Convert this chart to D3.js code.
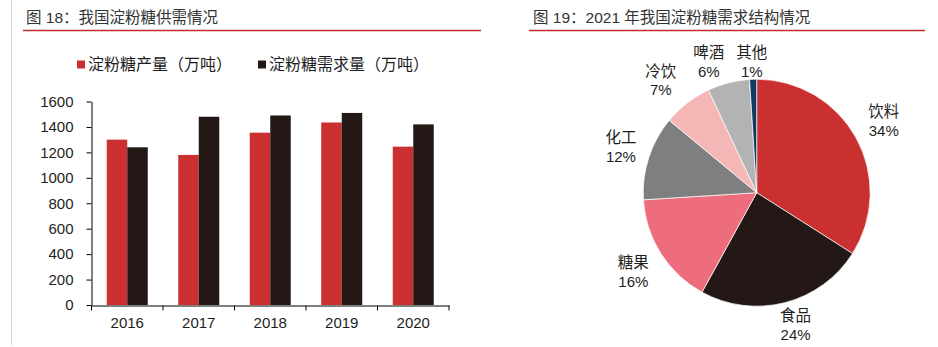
<!DOCTYPE html>
<html><head><meta charset="utf-8">
<script src="https://cdn.jsdelivr.net/npm/d3@7"></script>
<style>
html,body{margin:0;padding:0;background:#fff;}
svg{display:block;font-family:"Liberation Sans",Arial,"Noto Sans CJK SC",sans-serif;}
</style></head>
<body><svg id="c" width="938" height="347"></svg>
<script>
// ---- data: left chart ----
const years = ["2016","2017","2018","2019","2020"];
const production = [1300,1180,1355,1435,1245];
const demand = [1240,1480,1490,1510,1420];
const seriesNames = ["淀粉糖产量（万吨）","淀粉糖需求量（万吨）"];
const yTicks = [0,200,400,600,800,1000,1200,1400,1600];
// ---- data: right chart ----
const pieLabels = ["饮料","食品","糖果","化工","冷饮","啤酒","其他"];
const pieValues = [34,24,16,12,7,6,1];
const titleLeft = "图 18：我国淀粉糖供需情况";
const titleRight = "图 19：2021 年我国淀粉糖需求结构情况";

const barColors = ["#C9302F","#231815"];
const pieColors = ["#C9302F","#231815","#EE6D7C","#7F7F7F","#F5B6B6","#B3B3B3","#0F3A62"];
const textColor = "#1e1e1e";
const numFont = "'Liberation Sans',Arial,sans-serif";

const svg = d3.select("#c");

// frame elements
svg.append("line").attr("x1",11.5).attr("x2",11.5).attr("y1",0).attr("y2",345)
  .attr("stroke","#d6d6d6").attr("stroke-width",1);
svg.append("text").attr("x",26).attr("y",18).attr("dy","0.35em")
  .attr("font-size",15.5).attr("fill","#333").text(titleLeft);
svg.append("text").attr("x",533).attr("y",18).attr("dy","0.35em")
  .attr("font-size",15.5).attr("fill","#333").text(titleRight);
svg.append("line").attr("x1",23).attr("x2",481).attr("y1",30.5).attr("y2",30.5)
  .attr("stroke","#C42A2A").attr("stroke-width",1.3);
svg.append("line").attr("x1",529).attr("x2",925).attr("y1",30.5).attr("y2",30.5)
  .attr("stroke","#C42A2A").attr("stroke-width",1.3);

// ---- bar chart ----
const x = d3.scaleBand().domain(years).range([91.5,449]).paddingInner(0).paddingOuter(0);
const xs = d3.scaleBand().domain([0,1]).range([0,x.bandwidth()]).paddingInner(0).paddingOuter(0.744);
const y = d3.scaleLinear().domain([0,1600]).range([305,101.5]);

const gBars = svg.append("g");
const seriesData = [production, demand];
seriesData.forEach((vals,si)=>{
  gBars.selectAll(".b"+si).data(vals).join("rect")
    .attr("x",(d,i)=>x(years[i])+xs(si))
    .attr("width",xs.bandwidth())
    .attr("y",d=>y(d))
    .attr("height",d=>y(0)-y(d))
    .attr("fill",barColors[si]);
});

// y axis
const yAxis = svg.append("g").attr("transform","translate(91.5,0)")
  .call(d3.axisLeft(y).tickValues(yTicks).tickFormat(d3.format("d")).tickSize(5).tickPadding(13).tickSizeOuter(0));
yAxis.select(".domain").attr("stroke","#000");
yAxis.selectAll(".tick line").attr("stroke","#000");
yAxis.selectAll("text").attr("font-size",15).attr("fill",textColor).style("font-family",numFont);

// x axis
const xAxis = svg.append("g").attr("transform","translate(0,305.5)")
  .call(d3.axisBottom(x).tickSize(0).tickPadding(12).tickSizeOuter(0));
xAxis.select(".domain").attr("stroke","#000");
xAxis.selectAll("text").attr("font-size",15).attr("fill",textColor).style("font-family",numFont);
const bounds = years.map(d=>x(d)).concat([x.range()[1]]);
xAxis.selectAll(".bt").data(bounds).join("line")
  .attr("x1",d=>d).attr("x2",d=>d).attr("y1",0).attr("y2",5).attr("stroke","#000");

// legend
const legX = [77,258];
seriesNames.forEach((name,i)=>{
  svg.append("rect").attr("x",legX[i]).attr("y",60.5).attr("width",8).attr("height",8).attr("fill",barColors[i]);
  svg.append("text").attr("x",legX[i]+11).attr("y",64.5).attr("dy","0.35em")
    .attr("font-size",16).attr("fill",textColor).text(name);
});

// ---- pie chart ----
const cx = 756.7, cy = 192.7, R = 113.5;
const pie = d3.pie().sort(null).value(d=>d).startAngle(0).endAngle(2*Math.PI);
const arcs = pie(pieValues);
const arc = d3.arc().innerRadius(0).outerRadius(R);
const gPie = svg.append("g").attr("transform",`translate(${cx},${cy})`);
gPie.selectAll("path").data(arcs).join("path")
  .attr("d",arc).attr("fill",(d,i)=>pieColors[i])
  .attr("stroke","#fff").attr("stroke-width",0.7);

// label layout (outside end): anchor point just outside the rim, box pushed outward
const W = 25, H = 20, gap = 3, k = 1.6, minCy = 62, halfW = 15.5;
const clamp = v => Math.max(-1, Math.min(1, v));
const labs = arcs.map((a,i)=>{
  const th = (a.startAngle+a.endAngle)/2;
  const ux = Math.sin(th), uy = -Math.cos(th);
  let lx = cx + ux*(R+gap) + W*clamp(k*ux);
  let ly = cy + uy*(R+gap) + H*clamp(k*uy);
  if (ly < minCy) ly = minCy;
  return {i, lx, ly};
});
// resolve horizontal overlaps for labels on the same row
for (let j = labs.length-1; j > 0; j--) {
  const a = labs[j], b = labs[j-1];
  if (Math.abs(a.ly-b.ly) < 2*H && b.lx < a.lx && a.lx - b.lx < 2*halfW+12) {
    b.lx = a.lx - (2*halfW+12);
  }
}
labs.forEach(l=>{
  const t = svg.append("text").attr("text-anchor","middle").attr("fill",textColor);
  t.append("tspan").attr("x",l.lx).attr("y",l.ly-9.5).attr("dy","0.35em")
    .attr("font-size",15.5).text(pieLabels[l.i]);
  t.append("tspan").attr("x",l.lx).attr("y",l.ly+9.5).attr("dy","0.35em")
    .attr("font-size",15).style("font-family",numFont).text(pieValues[l.i]+"%");
});
</script>
</body></html>
